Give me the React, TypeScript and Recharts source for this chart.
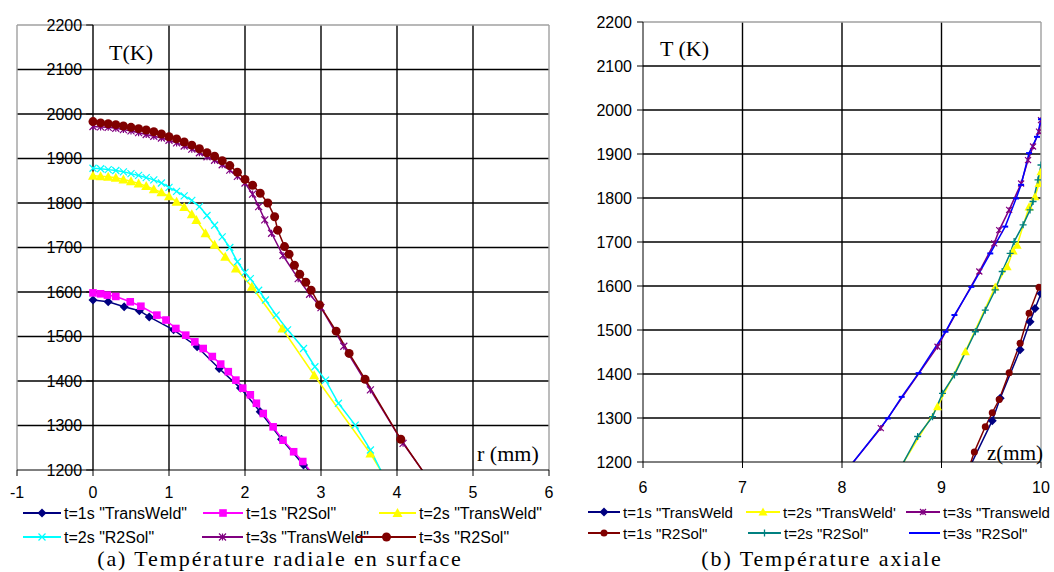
import React from 'react';
import { LineChart, Line, XAxis, YAxis, CartesianGrid, ReferenceLine } from 'recharts';

type Pair = [number, number];

// (a) surface radial profiles: [r (mm), T (K)]
const radial1sTransWeld: Pair[] = [
  [0, 1582], [0.2, 1578], [0.41, 1567], [0.61, 1558], [0.74, 1544], [1.06, 1515], [1.37, 1477],
  [1.66, 1428], [1.94, 1384], [2.2, 1331], [2.48, 1269], [2.77, 1211], [2.87, 1195],
];
const radial1sR2Sol: Pair[] = [
  [0, 1598], [0.1, 1596], [0.19, 1593], [0.3, 1590], [0.49, 1578], [0.63, 1568], [0.84, 1548],
  [0.96, 1537], [1.09, 1518], [1.22, 1503], [1.34, 1488], [1.45, 1473], [1.57, 1455], [1.68, 1438],
  [1.78, 1421], [1.88, 1402], [1.97, 1384], [2.07, 1369], [2.15, 1350], [2.24, 1327], [2.37, 1297],
  [2.5, 1267], [2.64, 1241], [2.76, 1219], [2.87, 1195],
];
const radial2sTransWeld: Pair[] = [
  [0, 1861], [0.1, 1860], [0.2, 1859], [0.3, 1857], [0.4, 1853], [0.5, 1849], [0.6, 1844],
  [0.7, 1838], [0.8, 1831], [0.9, 1824], [1.0, 1815], [1.1, 1803], [1.2, 1791], [1.3, 1775],
  [1.36, 1762], [1.48, 1732], [1.6, 1706], [1.74, 1679], [1.88, 1653], [2.09, 1612], [2.49, 1518],
  [2.91, 1413], [3.65, 1237], [3.8, 1195],
];
const radial2sR2Sol: Pair[] = [
  [0, 1878], [0.1, 1877], [0.2, 1875], [0.3, 1873], [0.4, 1870], [0.5, 1866], [0.6, 1862],
  [0.7, 1857], [0.8, 1852], [0.9, 1845], [1.0, 1835], [1.1, 1826], [1.2, 1816], [1.3, 1806],
  [1.4, 1792], [1.5, 1772], [1.6, 1750], [1.7, 1724], [1.8, 1700], [1.9, 1668], [2.0, 1644],
  [2.07, 1630], [2.18, 1604], [2.27, 1582], [2.41, 1548], [2.56, 1515], [2.77, 1473], [2.92, 1432],
  [3.06, 1402], [3.23, 1350], [3.45, 1301], [3.65, 1245], [3.8, 1195],
];
const radial3sTransWeld: Pair[] = [
  [0, 1972], [0.1, 1971], [0.2, 1970], [0.3, 1968], [0.4, 1965], [0.5, 1962], [0.6, 1958],
  [0.7, 1954], [0.8, 1950], [0.9, 1946], [1.0, 1941], [1.1, 1935], [1.2, 1928], [1.3, 1921],
  [1.4, 1913], [1.5, 1904], [1.6, 1896], [1.7, 1886], [1.8, 1874], [1.9, 1860], [2.0, 1845],
  [2.1, 1820], [2.18, 1792], [2.26, 1762], [2.35, 1732], [2.5, 1682], [2.7, 1630], [2.85, 1595],
  [3.0, 1565], [3.3, 1478], [3.65, 1380], [4.08, 1260], [4.35, 1195],
];
const radial3sR2Sol: Pair[] = [
  [0, 1983], [0.1, 1980], [0.2, 1978], [0.3, 1976], [0.4, 1973], [0.5, 1970], [0.6, 1967],
  [0.7, 1964], [0.8, 1960], [0.9, 1955], [1.0, 1949], [1.1, 1944], [1.2, 1937], [1.3, 1930],
  [1.4, 1922], [1.5, 1913], [1.6, 1905], [1.7, 1895], [1.8, 1884], [1.9, 1869], [2.0, 1853],
  [2.1, 1840], [2.2, 1822], [2.3, 1800], [2.39, 1769], [2.43, 1739], [2.52, 1702], [2.58, 1685],
  [2.65, 1660], [2.72, 1640], [2.8, 1622], [2.87, 1604], [2.98, 1571], [3.2, 1512], [3.37, 1462],
  [3.58, 1404], [4.05, 1269], [4.35, 1195],
];

// (b) axial profiles: [z (mm), T (K)]
const axial1sTransWeld: Pair[] = [
  [10.0, 1583], [9.94, 1549], [9.89, 1519], [9.79, 1455], [9.59, 1345], [9.51, 1294], [9.3, 1196],
];
const axial1sR2Sol: Pair[] = [
  [9.98, 1597], [9.88, 1538], [9.79, 1470], [9.68, 1403], [9.58, 1342], [9.51, 1312], [9.44, 1280],
  [9.33, 1223], [9.29, 1196],
];
const axial2sTransWeld: Pair[] = [
  [10.0, 1860], [9.98, 1833], [9.94, 1803], [9.88, 1780], [9.76, 1693], [9.72, 1680], [9.66, 1644],
  [9.54, 1598], [9.24, 1451], [8.96, 1326], [8.61, 1196],
];
const axial2sR2Sol: Pair[] = [
  [10.0, 1875], [9.97, 1841], [9.92, 1792], [9.89, 1773], [9.82, 1739], [9.73, 1701], [9.69, 1674],
  [9.61, 1633], [9.54, 1591], [9.44, 1545], [9.34, 1496], [9.13, 1398], [9.01, 1356], [8.91, 1303],
  [8.76, 1258], [8.61, 1196],
];
const axial3sTransWeld: Pair[] = [
  [10.0, 1977], [9.98, 1951], [9.92, 1917], [9.87, 1886], [9.8, 1833], [9.68, 1773], [9.58, 1727],
  [9.53, 1697], [9.38, 1633], [8.96, 1462], [8.39, 1277], [8.1, 1196],
];
const axial3sR2Sol: Pair[] = [
  [10.0, 1979], [9.96, 1939], [9.88, 1902], [9.8, 1830], [9.75, 1799], [9.64, 1735], [9.49, 1674],
  [9.3, 1598], [9.13, 1534], [9.04, 1496], [8.77, 1402], [8.6, 1348], [8.46, 1299], [8.1, 1196],
];

const radialTicks = [-1, 0, 1, 2, 3, 4, 5, 6];
const axialTicks = [6, 7, 8, 9, 10];
const tempTicks = [1200, 1300, 1400, 1500, 1600, 1700, 1800, 1900, 2000, 2100, 2200];

const radialNames = ['t=1s "TransWeld"', 't=1s "R2Sol"', 't=2s "TransWeld"', 't=2s "R2Sol"', 't=3s "TransWeld"', 't=3s "R2Sol"'];
const axialNames = ['t=1s "TransWeld', 't=1s "R2Sol"', 't=2s "TransWeld\'', 't=2s "R2Sol"', 't=3s "Transweld', 't=3s "R2Sol"'];

const SANS = "'Liberation Sans', Arial, sans-serif";
const SERIF = "'Liberation Serif', 'Times New Roman', serif";
const TMIN = 1200;

type Shape = 'diamond' | 'square' | 'triangle' | 'cross' | 'star' | 'circle' | 'plus' | 'dash';

interface Series {
  name: string;
  data: Pair[];
  color: string;
  shape: Shape;
  size: number;
  // legend placement
  lx1: number;
  lx2: number;
  ly: number;
}

const toPts = (d: Pair[]) => d.map(([x, T]) => ({ x, T }));

const radialSeries: Series[] = [
  { name: radialNames[0], data: radial1sTransWeld, color: '#000080', shape: 'diamond', size: 4.5, lx1: 23, lx2: 61, ly: 513 },
  { name: radialNames[1], data: radial1sR2Sol, color: '#ff00ff', shape: 'square', size: 3.8, lx1: 203, lx2: 243, ly: 513 },
  { name: radialNames[2], data: radial2sTransWeld, color: '#ffff00', shape: 'triangle', size: 5, lx1: 379, lx2: 416, ly: 513 },
  { name: radialNames[3], data: radial2sR2Sol, color: '#00ffff', shape: 'cross', size: 3.5, lx1: 23, lx2: 61, ly: 537 },
  { name: radialNames[4], data: radial3sTransWeld, color: '#800080', shape: 'star', size: 3.5, lx1: 202, lx2: 243, ly: 537 },
  { name: radialNames[5], data: radial3sR2Sol, color: '#800000', shape: 'circle', size: 4.5, lx1: 357, lx2: 416, ly: 537 },
];

const axialSeries: Series[] = [
  { name: axialNames[0], data: axial1sTransWeld, color: '#000080', shape: 'diamond', size: 4.5, lx1: 588, lx2: 620, ly: 512 },
  { name: axialNames[1], data: axial1sR2Sol, color: '#800000', shape: 'circle', size: 3.5, lx1: 588, lx2: 620, ly: 533 },
  { name: axialNames[2], data: axial2sTransWeld, color: '#ffff00', shape: 'triangle', size: 4.5, lx1: 746, lx2: 780, ly: 512 },
  { name: axialNames[3], data: axial2sR2Sol, color: '#008080', shape: 'plus', size: 3.5, lx1: 748, lx2: 781, ly: 533 },
  { name: axialNames[4], data: axial3sTransWeld, color: '#800080', shape: 'star', size: 3, lx1: 906, lx2: 940, ly: 512 },
  { name: axialNames[5], data: axial3sR2Sol, color: '#0000ff', shape: 'dash', size: 3, lx1: 909, lx2: 940, ly: 533 },
];

const Marker = ({ shape, x, y, s, color }: { shape: Shape; x: number; y: number; s: number; color: string }) => {
  switch (shape) {
    case 'diamond':
      return <polygon points={`${x},${y - s} ${x + s},${y} ${x},${y + s} ${x - s},${y}`} fill={color} />;
    case 'square':
      return <rect x={x - s} y={y - s} width={2 * s} height={2 * s} fill={color} />;
    case 'triangle':
      return <polygon points={`${x},${y - s} ${x + s},${y + s * 0.8} ${x - s},${y + s * 0.8}`} fill={color} />;
    case 'circle':
      return <circle cx={x} cy={y} r={s} fill={color} />;
    case 'cross':
      return <path d={`M${x - s},${y - s}L${x + s},${y + s}M${x - s},${y + s}L${x + s},${y - s}`} stroke={color} strokeWidth={1.2} />;
    case 'star':
      return (
        <path
          d={`M${x - s},${y - s}L${x + s},${y + s}M${x - s},${y + s}L${x + s},${y - s}M${x},${y - s}L${x},${y + s}`}
          stroke={color}
          strokeWidth={1.2}
        />
      );
    case 'plus':
      return <path d={`M${x - s},${y}L${x + s},${y}M${x},${y - s}L${x},${y + s}`} stroke={color} strokeWidth={1.3} />;
    case 'dash':
      return <path d={`M${x - s},${y}L${x + s},${y}`} stroke={color} strokeWidth={2} />;
  }
  return null;
};

const dotFor = (s: Series) => (p: any) => {
  const k = `${s.name}-${p.index}`;
  if (p.payload == null || p.payload.T < TMIN || p.cx == null) return <g key={k} />;
  return (
    <g key={k}>
      <Marker shape={s.shape} x={p.cx} y={p.cy} s={s.size} color={s.color} />
    </g>
  );
};

const renderLines = (list: Series[]) =>
  list.map((s) => (
    <Line
      key={s.name}
      data={toPts(s.data)}
      dataKey="T"
      name={s.name}
      type="linear"
      stroke={s.color}
      strokeWidth={1.5}
      dot={dotFor(s)}
      activeDot={false}
      isAnimationActive={false}
    />
  ));

const LegendOverlay = ({ list, fontSize }: { list: Series[]; fontSize: number }) => (
  <>
    {list.map((s) => (
      <g key={s.name}>
        <line x1={s.lx1} x2={s.lx2} y1={s.ly} y2={s.ly} stroke={s.color} strokeWidth={2} />
        <Marker shape={s.shape} x={(s.lx1 + s.lx2) / 2} y={s.ly} s={s.size} color={s.color} />
        <text x={s.lx2 + 3} y={s.ly} dominantBaseline="central" fontSize={fontSize} fontFamily={SANS} fill="#000">
          {s.name}
        </text>
      </g>
    ))}
  </>
);

const tickStyle = { fill: '#000', fontSize: 16, fontFamily: SANS };
const gridTemps = tempTicks.slice(1, -1);
const BORDER = '#a0a0a0';

const App: React.FC = () => {
  return (
    <div style={{ position: 'absolute', left: 0, top: 0, width: 1054, height: 572, background: '#fff', overflow: 'hidden' }}>
      {/* (a) radial */}
      <div style={{ position: 'absolute', left: 0, top: 0 }}>
        <LineChart width={560} height={510} margin={{ top: 25, right: 11, left: 17, bottom: 0 }}>
          <CartesianGrid stroke="#000" strokeWidth={1.4} verticalValues={[1, 2, 3, 4, 5]} horizontalValues={gridTemps} />
          <XAxis
            type="number"
            dataKey="x"
            domain={[-1, 6]}
            ticks={radialTicks}
            interval={0}
            allowDataOverflow
            height={40}
            stroke="#000"
            tick={tickStyle}
            tickMargin={11}
          />
          <YAxis type="number" domain={[1200, 2200]} ticks={tempTicks} allowDataOverflow hide />
          <ReferenceLine y={2200} stroke={BORDER} strokeWidth={1.4} />
          <ReferenceLine x={-1} stroke={BORDER} strokeWidth={1.4} />
          <ReferenceLine x={6} stroke={BORDER} strokeWidth={1.4} />
          <ReferenceLine x={0} stroke="#000" strokeWidth={1.4} />
          {tempTicks.map((t) => (
            <ReferenceLine
              key={t}
              segment={[{ x: -0.09, y: t }, { x: 0, y: t }]}
              stroke="#000"
              label={{ value: t, position: 'left', offset: 4, fill: '#000', fontSize: 16, fontFamily: SANS }}
            />
          ))}
          {renderLines(radialSeries)}
        </LineChart>
      </div>

      {/* (b) axial */}
      <div style={{ position: 'absolute', left: 560, top: 0 }}>
        <LineChart width={494} height={500} margin={{ top: 22, right: 13, left: 0, bottom: 0 }}>
          <CartesianGrid stroke="#000" strokeWidth={1.4} verticalValues={[7, 8, 9]} horizontalValues={gridTemps} />
          <XAxis
            type="number"
            dataKey="x"
            domain={[6, 10]}
            ticks={axialTicks}
            interval={0}
            allowDataOverflow
            height={38}
            stroke="#000"
            tick={tickStyle}
            tickMargin={14}
          />
          <YAxis
            type="number"
            domain={[1200, 2200]}
            ticks={tempTicks}
            interval={0}
            allowDataOverflow
            width={83}
            stroke="#000"
            tick={tickStyle}
            tickMargin={5}
          />
          <ReferenceLine y={2200} stroke={BORDER} strokeWidth={1.4} />
          <ReferenceLine x={10} stroke={BORDER} strokeWidth={1.4} />
          {renderLines(axialSeries)}
        </LineChart>
      </div>

      <svg width={1054} height={572} style={{ position: 'absolute', left: 0, top: 0, pointerEvents: 'none' }}>
        <LegendOverlay list={radialSeries} fontSize={16} />
        <LegendOverlay list={axialSeries} fontSize={15} />
        <text x={109} y={60} fontSize={22} fontFamily={SERIF} fill="#000">T(K)</text>
        <text x={477} y={461} fontSize={22} fontFamily={SERIF} fill="#000">r (mm)</text>
        <text x={660} y={56} fontSize={22} fontFamily={SERIF} fill="#000">T (K)</text>
        <text x={987} y={460} fontSize={21} fontFamily={SERIF} fill="#000">z(mm)</text>
        <text x={280} y={566} textAnchor="middle" fontSize={22} letterSpacing={1.9} fontFamily={SERIF} fill="#000">
          (a)  Température radiale en surface
        </text>
        <text x={822} y={566} textAnchor="middle" fontSize={22} letterSpacing={1.9} fontFamily={SERIF} fill="#000">
          (b)  Température axiale
        </text>
      </svg>
    </div>
  );
};

export default App;
